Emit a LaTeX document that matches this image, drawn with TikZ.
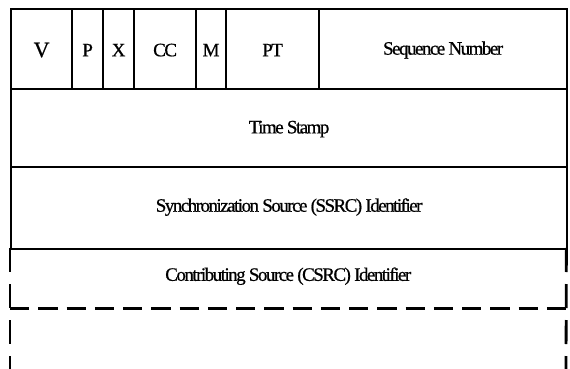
\documentclass[tikz,border=0pt]{standalone}
\usepackage{fontspec}
\setmainfont{Liberation Serif}[FakeBold=0.7]
\newfontfamily\tightfont{Liberation Serif}[LetterSpace=-8, FakeBold=0.7]
\begin{document}
\begin{tikzpicture}[x=1pt,y=-1pt,
  field/.style={draw=black, line width=2.2pt, inner sep=0pt, anchor=north west},
  bigletter/.style={font=\fontsize{22}{22}\selectfont},
  letter/.style={font=\fontsize{19}{19}\selectfont},
  label/.style={font=\tightfont\fontsize{19}{19}\selectfont},
  vdash/.style={line width=2.8pt, dash pattern=on 24pt off 12pt},
  hdash/.style={line width=2.8pt, dash pattern=on 19.25pt off 9pt}]
\useasboundingbox (0,0) rectangle (570,369);
\fill[white] (0,0) rectangle (570,369);
% row 1
\node[field, minimum width=61pt, minimum height=80pt] (v) at (10,8) {};
\node[field, minimum width=31pt, minimum height=80pt] (p) at (71,8) {};
\node[field, minimum width=31pt, minimum height=80pt] (x) at (102,8) {};
\node[field, minimum width=62pt, minimum height=80pt] (cc) at (133,8) {};
\node[field, minimum width=30pt, minimum height=80pt] (m) at (195,8) {};
\node[field, minimum width=93pt, minimum height=80pt] (pt) at (225,8) {};
\node[field, minimum width=248pt, minimum height=80pt] (seq) at (318,8) {};
\node[bigletter] (vt) at ([yshift=-1pt]v.center) {V};
\node[letter] (pt1) at ([yshift=-1pt]p.center) {P};
\node[letter] (xt) at ([yshift=-1pt]x.center) {X};
\node[letter] (cct) at ([yshift=-1pt]cc.center) {\tightfont CC};
\node[letter] (mt) at ([yshift=-1pt]m.center) {M};
\node[letter] (ptt) at ([yshift=-1pt]pt.center) {\tightfont PT};
\node[label] (seqt) at ([yshift=-1pt]seq.center) {Sequence Number};
% row 2
\node[field, minimum width=556pt, minimum height=78pt] (ts) at (10,88) {};
\node[label] (tst) at ([yshift=-1pt]ts.center) {Time Stamp};
% row 3
\node[field, minimum width=556pt, minimum height=82pt] (ssrc) at (10,166) {};
\node[label] (ssrct) at ([yshift=1pt]ssrc.center) {Synchronization Source (SSRC) Identifier};
% row 4 (dashed)
\node[inner sep=0pt, anchor=north west, minimum width=556pt, minimum height=60pt] (csrc) at (10,248) {};
\node[label] (csrct) at ([yshift=2pt]csrc.center) {Contributing Source (CSRC) Identifier};
\coordinate (bl) at (10,369);
\coordinate (br) at (566,369);
\draw[vdash] (csrc.north west) -- (bl);
\draw[vdash] (csrc.north east) -- (br);
\draw[hdash] (csrc.south west) -- (csrc.south east);
\end{tikzpicture}
\end{document}
